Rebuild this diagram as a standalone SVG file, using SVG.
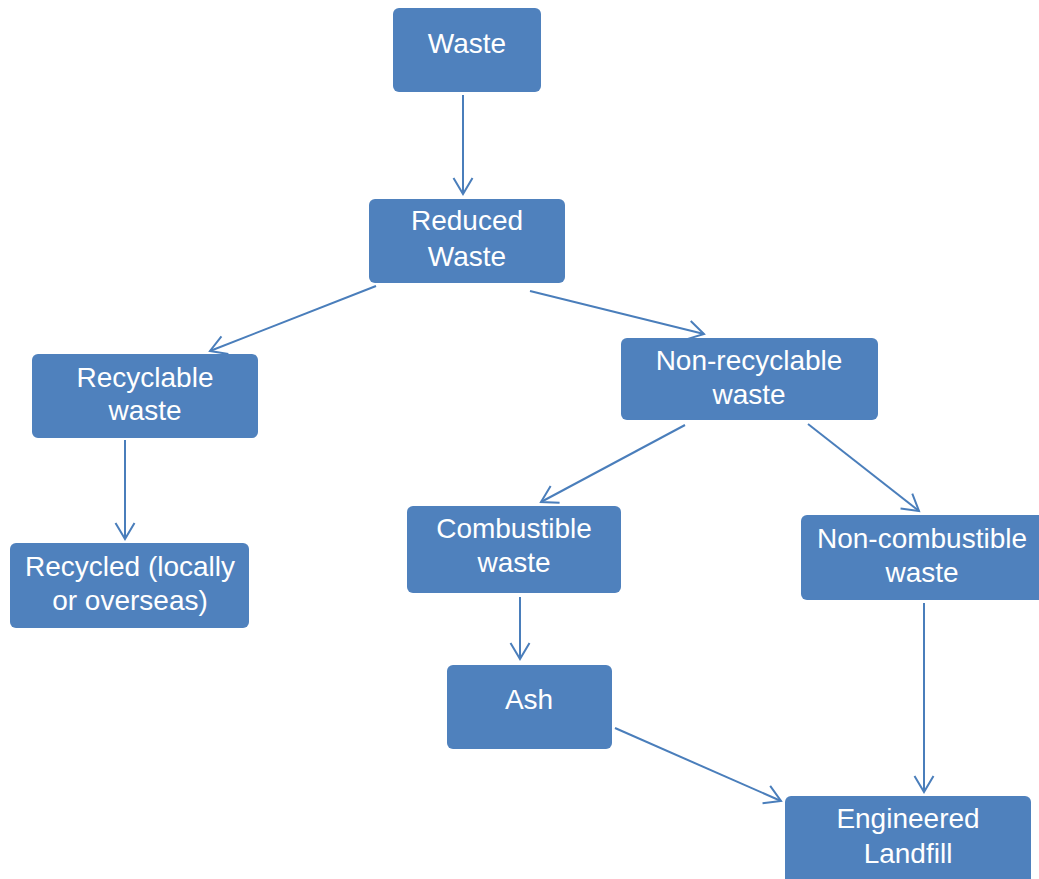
<svg xmlns="http://www.w3.org/2000/svg" width="1039" height="879" viewBox="0 0 1039 879">
<style>
.box{fill:#4F81BD;}
.t{font-family:"Liberation Sans",Arial,sans-serif;font-size:28px;fill:#FFFFFF;text-anchor:middle;}
.c{stroke:#4A7EBB;stroke-width:2;fill:none;marker-end:url(#a);}
</style>
<defs>
<marker id="a" markerUnits="userSpaceOnUse" markerWidth="20" markerHeight="22" refX="17" refY="11" orient="auto" viewBox="0 0 20 22">
<path d="M1,1.5 L17,11 L1,20.5" fill="none" stroke="#4A7EBB" stroke-width="2"/>
</marker>
</defs>
<rect width="1039" height="879" fill="#FFFFFF"/>
<g id="connectors">
<line class="c" x1="463" y1="95" x2="463" y2="194"/>
<line class="c" x1="376" y1="286" x2="210" y2="351"/>
<line class="c" x1="530" y1="291" x2="704" y2="334"/>
<line class="c" x1="125" y1="440" x2="125" y2="539"/>
<line class="c" x1="685" y1="425" x2="541" y2="502"/>
<line class="c" x1="808" y1="424" x2="919" y2="511"/>
<line class="c" x1="520" y1="597" x2="520" y2="659"/>
<line class="c" x1="615" y1="728" x2="781" y2="801"/>
<line class="c" x1="924" y1="603" x2="924" y2="792"/>
</g>
<g id="waste"><rect class="box" x="393" y="8" width="148" height="84" rx="6"/><text class="t" x="467" y="53">Waste</text></g>
<g id="reduced"><rect class="box" x="369" y="199" width="196" height="84" rx="6"/><text class="t" x="467" y="230">Reduced</text><text class="t" x="467" y="266">Waste</text></g>
<g id="recyclable"><rect class="box" x="32" y="354" width="226" height="84" rx="6"/><text class="t" x="145" y="387">Recyclable</text><text class="t" x="145" y="420">waste</text></g>
<g id="nonrecyclable"><rect class="box" x="621" y="338" width="257" height="82" rx="6"/><text class="t" x="749" y="370">Non-recyclable</text><text class="t" x="749" y="404">waste</text></g>
<g id="recycled"><rect class="box" x="10" y="543" width="239" height="85" rx="6"/><text class="t" x="130" y="576">Recycled (locally</text><text class="t" x="130" y="610">or overseas)</text></g>
<g id="combustible"><rect class="box" x="407" y="506" width="214" height="87" rx="6"/><text class="t" x="514" y="538">Combustible</text><text class="t" x="514" y="572">waste</text></g>
<g id="noncombustible"><rect class="box" x="801" y="515" width="244" height="85" rx="6"/><text class="t" x="922" y="548">Non-combustible</text><text class="t" x="922" y="582">waste</text></g>
<g id="ash"><rect class="box" x="447" y="665" width="165" height="84" rx="6"/><text class="t" x="529" y="709">Ash</text></g>
<g id="landfill"><rect class="box" x="785" y="796" width="246" height="90" rx="6"/><text class="t" x="908" y="828">Engineered</text><text class="t" x="908" y="863">Landfill</text></g>
</svg>
